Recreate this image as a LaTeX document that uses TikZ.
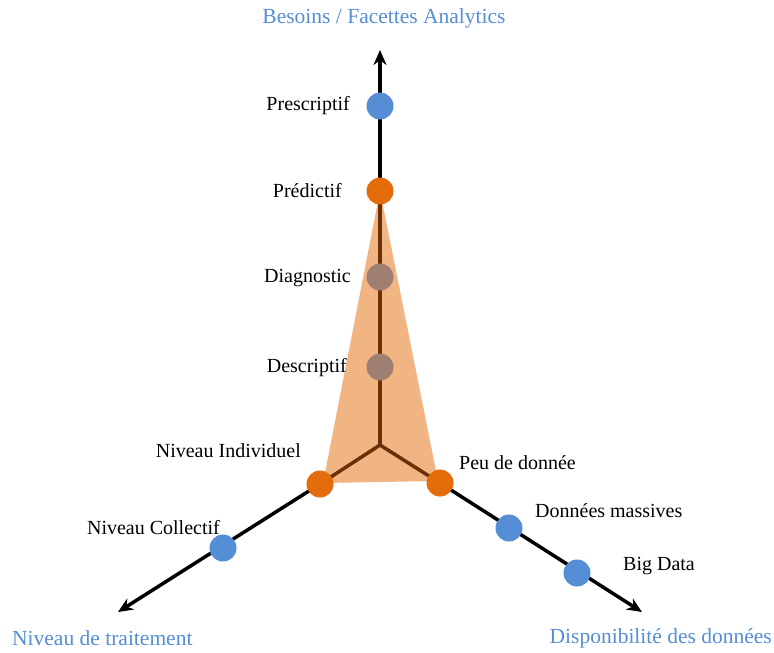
\documentclass[tikz,border=0pt]{standalone}
\usepackage{fontspec}
\setmainfont{Liberation Serif}
\usetikzlibrary{arrows.meta}
\definecolor{axisblue}{HTML}{558ED5}
\definecolor{dotorange}{HTML}{E46C0A}
\definecolor{dotgrey}{HTML}{9E7F72}
\definecolor{conefill}{HTML}{F1B483}
\definecolor{conebrown}{HTML}{6B3006}
\tikzset{
  bluedot/.style={circle, fill=axisblue, minimum size=27pt, inner sep=0pt},
  orangedot/.style={circle, fill=dotorange, minimum size=27pt, inner sep=0pt},
  greydot/.style={circle, fill=dotgrey, minimum size=27pt, inner sep=0pt},
  lbl/.style={inner sep=0pt, font=\fontsize{20}{24}\selectfont},
  axtitle/.style={inner sep=0pt, text=axisblue, font=\fontsize{21.5}{25}\selectfont},
  axisline/.style={line width=3.5pt, -{Stealth[length=15pt,width=13pt]}},
  innerline/.style={line width=3.5pt, conebrown}
}
\begin{document}
\begin{tikzpicture}[x=1pt,y=-1pt]
			%%%%% FRAME %%%%%
			\useasboundingbox (0, 0) rectangle (774, 653);
			
			\coordinate (centre) at (380, 445);
			\coordinate (tipup) at (380, 50);
			\coordinate (tipleft) at (118, 612);
			\coordinate (tipright) at (642, 612);
			
			%%%%% CONE %%%%%
			\fill[conefill] (380, 191) -- (323, 483) -- (438, 481) -- cycle;
			
			%%%%% AXES %%%%%
			\coordinate (pred) at (380, 191);
			\coordinate (indiv) at (320, 484);
			\coordinate (peu) at (440, 483);
			\draw[axisline] (pred) -- (tipup);
			\draw[axisline] (indiv) -- (tipleft);
			\draw[axisline] (peu) -- (tipright);
			\draw[innerline] (pred) -- (centre);
			\draw[innerline] (indiv) -- (centre) -- (peu);
			
			%%%%% POINTS %%%%%
			\node[bluedot] (prescriptif) at (380, 106) {};
			\node[orangedot] (predictif) at (pred) {};
			\node[greydot] (diagnostic) at (380, 277) {};
			\node[greydot] (descriptif) at (380, 367) {};
			\node[orangedot] (individuel) at (indiv) {};
			\node[bluedot] (collectif) at (223, 548) {};
			\node[orangedot] (peudonnee) at (peu) {};
			\node[bluedot] (massives) at (509, 528) {};
			\node[bluedot] (bigdata) at (577, 573) {};
			
			%%%%% LABELS %%%%%
			\node[lbl, anchor=east] (lprescriptif) at (350, 106) {Prescriptif};
			\node[lbl, anchor=east] (lpredictif) at (342, 191) {Prédictif};
			\node[lbl, anchor=east] (ldiagnostic) at (351, 278) {Diagnostic};
			\node[lbl, anchor=east] (ldescriptif) at (347, 368) {Descriptif};
			\node[lbl, anchor=east] (lindividuel) at (301, 451) {Niveau Individuel};
			\node[lbl, anchor=east] (lcollectif) at (220, 528) {Niveau Collectif};
			\node[lbl, anchor=west] (lpeu) at (459, 463) {Peu de donnée};
			\node[lbl, anchor=west] (lmassives) at (535, 511) {Données massives};
			\node[lbl, anchor=west] (lbigdata) at (623, 566) {Big Data};
			
			\node[axtitle] (tbesoins) at (384, 18) {Besoins / Facettes Analytics};
			\node[axtitle, anchor=west] (tniveau) at (12, 638) {Niveau de traitement};
			\node[axtitle, anchor=east] (tdispo) at (772, 638) {Disponibilité des données};
			
			%%%%% END %%%%%
\end{tikzpicture}
\end{document}
